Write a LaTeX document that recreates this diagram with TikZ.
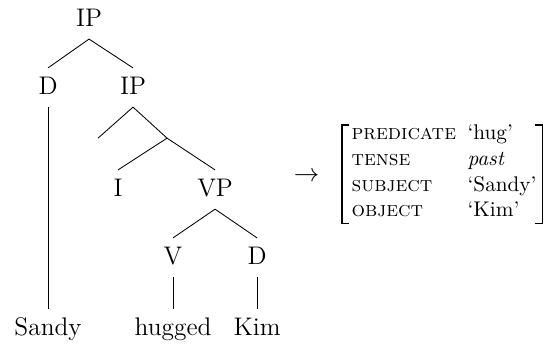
\documentclass[tikz,border=0pt]{standalone}
\usepackage{tikz}

\def\avmLeft{5.67}
\def\avmRight{8.99}
\def\avmTop{3.63}
\def\avmBottom{1.99}
\colorlet{branch edge}{black}
\tikzset{
  category/.style={anchor=base, inner sep=3.2pt, text height=9.3pt, text depth=2.4pt, font=\large},
  avmattr/.style={anchor=base west, inner sep=0pt},
  avmval/.style={anchor=base west, inner sep=0pt}
  }
\tikzstyle{branch} = [draw=branch edge, -]
\tikzstyle{bracket} = [draw, line width=0.6pt]

\begin{document}
\begin{tikzpicture}
  \useasboundingbox (0,0) rectangle (9.05,5.70);

  % tree
  \node[category] (ip1) at (1.476, 5.256) {IP};
  \node[category] (d1) at (0.796, 4.128) {D};
  \node[category] (ip2) at (2.205, 4.128) {IP};
  \coordinate (gap) at (1.625, 3.41);
  \coordinate (ibar) at (2.769, 3.41);
  \node[category] (i) at (1.956, 2.437) {I};
  \node[category] (vp) at (3.565, 2.437) {VP};
  \node[category] (v) at (2.868, 1.310) {V};
  \node[category] (d2) at (4.261, 1.310) {D};
  \node[category] (sandy) at (0.796, 0.133) {Sandy};
  \node[category] (hugged) at (2.868, 0.133) {hugged};
  \node[category] (kim) at (4.261, 0.133) {Kim};

  \foreach \a/\b in {ip1.south/d1.north, ip1.south/ip2.north, d1.south/sandy.north,
                     ip2.south/gap, ip2.south/ibar, ibar/i.north, ibar/vp.north,
                     vp.south/v.north, vp.south/d2.north,
                     v.south/hugged.north, d2.south/kim.north} {
    \path[branch] (\a) -- (\b);
  }

  \node[font=\large] (maps) at (5.082, 2.769) {$\rightarrow$};

  % f-structure
  \draw[bracket] (\avmLeft+0.116, \avmTop) -- (\avmLeft, \avmTop)
    -- (\avmLeft, \avmBottom) -- (\avmLeft+0.116, \avmBottom);
  \draw[bracket] (\avmRight-0.116, \avmTop) -- (\avmRight, \avmTop)
    -- (\avmRight, \avmBottom) -- (\avmRight-0.116, \avmBottom);

  \foreach \y/\name/\attr/\val in {3.382/pred/predicate/`hug',
                                   2.956/tense/tense/\textit{past},
                                   2.530/subj/subject/`Sandy',
                                   2.106/obj/object/`Kim'} {
    \node[avmattr] (\name) at (5.820, \y) {\textsc{\attr}};
    \node[avmval] (\name val) at (7.743, \y) {\val};
  }
\end{tikzpicture}
\end{document}
